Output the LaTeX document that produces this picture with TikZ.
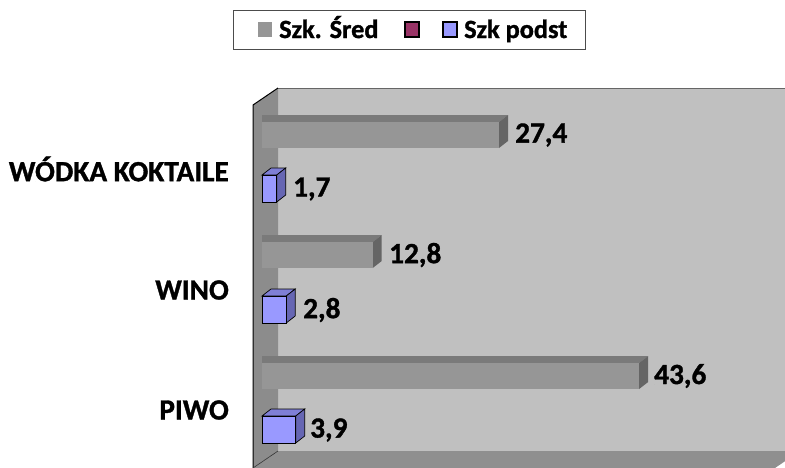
\documentclass[tikz,border=0pt]{standalone}
\usepackage{fontspec}
\setmainfont{Carlito}[BoldFont={Carlito Bold}, BoldFeatures={FakeBold=1.2}]
\definecolor{wallback}{HTML}{C0C0C0}
\definecolor{wallside}{HTML}{8C8C8C}
\definecolor{floorc}{HTML}{8F8F8F}
\definecolor{gfront}{HTML}{969696}
\definecolor{gtop}{HTML}{7A7A7A}
\definecolor{gside}{HTML}{656565}
\definecolor{bfront}{HTML}{9999FF}
\definecolor{btop}{HTML}{7F7FD6}
\definecolor{bside}{HTML}{6666B3}
\definecolor{maroon}{HTML}{993366}
\tikzset{
  lbl/.style={font=\fontsize{29.3}{31}\selectfont\bfseries, inner sep=0pt},
  leg/.style={font=\fontsize{26.3}{28}\selectfont\bfseries, inner sep=0pt, anchor=base west},
}
\begin{document}
\begin{tikzpicture}[x=1pt,y=-1pt]
\useasboundingbox (0,0) rectangle (785,467);
\begin{scope}
\clip (0,0) rectangle (785,467);
% back wall
\fill[wallback] (278,88) rectangle (800,451);
\draw[gray!80!black, line width=0.8pt] (278,88) -- (800,88);
% left wall
\fill[wallside] (253,105) -- (278,88) -- (278,451) -- (253,468) -- cycle;
% floor
\fill[floorc] (278,451) -- (800,451) -- (775,468) -- (253,468) -- cycle;
\draw[black, line width=1pt] (253,468) -- (253,105) -- (278,88);
\draw[black!80, line width=0.6pt] (278,451) -- (253,468);
\end{scope}
% gray bars (Szk. Sred)
\foreach \v/\y in {27.4/122, 12.8/242, 43.6/363}{
  \pgfmathsetmacro{\e}{262+\v*8.65}
  \fill[gtop] (262,\y-7) -- (\e+9,\y-7) -- (\e,\y) -- (262,\y) -- cycle;
  \fill[gside] (\e,\y) -- (\e+9,\y-7) -- (\e+9,\y+19) -- (\e,\y+26) -- cycle;
  \fill[gfront] (262,\y) rectangle (\e,\y+26);
}
% blue bars (Szk podst)
\foreach \v/\y in {1.7/175, 2.8/296, 3.9/416}{
  \pgfmathsetmacro{\e}{262+\v*8.65}
  \filldraw[btop, draw=black, line width=0.7pt] (262,\y) -- (271,\y-7) -- (\e+9,\y-7) -- (\e,\y) -- cycle;
  \filldraw[bside, draw=black, line width=0.7pt] (\e,\y) -- (\e+9,\y-7) -- (\e+9,\y+20) -- (\e,\y+27) -- cycle;
  \filldraw[bfront, draw=black, line width=0.7pt] (262,\y) rectangle (\e,\y+27);
}
% value labels
\node[lbl, anchor=west] (v1) at (515,135) {27,4};
\node[lbl, anchor=west] (v2) at (389,255) {12,8};
\node[lbl, anchor=west] (v3) at (654,376) {43,6};
\node[lbl, anchor=west] (v4) at (293,189) {1,7};
\node[lbl, anchor=west] (v5) at (303,310) {2,8};
\node[lbl, anchor=west] (v6) at (310,430) {3,9};
% category labels
\node[lbl, anchor=east] (c1) at (229,169) {WÓDKA KOKTAILE};
\node[lbl, anchor=east] (c2) at (229,290) {WINO};
\node[lbl, anchor=east] (c3) at (229,410) {PIWO};
% legend
\draw[black!70, line width=0.8pt] (233,10) rectangle (585,49);
\fill[gfront] (258,22) rectangle (272,37);
\filldraw[fill=maroon, draw=black, line width=1.2pt] (405,22) rectangle (419,37);
\filldraw[fill=bfront, draw=black, line width=1.2pt] (443,22) rectangle (457,37);
\node[leg] (l1) at (279,38) {Szk. Śred};
\node[leg] (l2) at (464,38) {Szk podst};
\end{tikzpicture}
\end{document}
